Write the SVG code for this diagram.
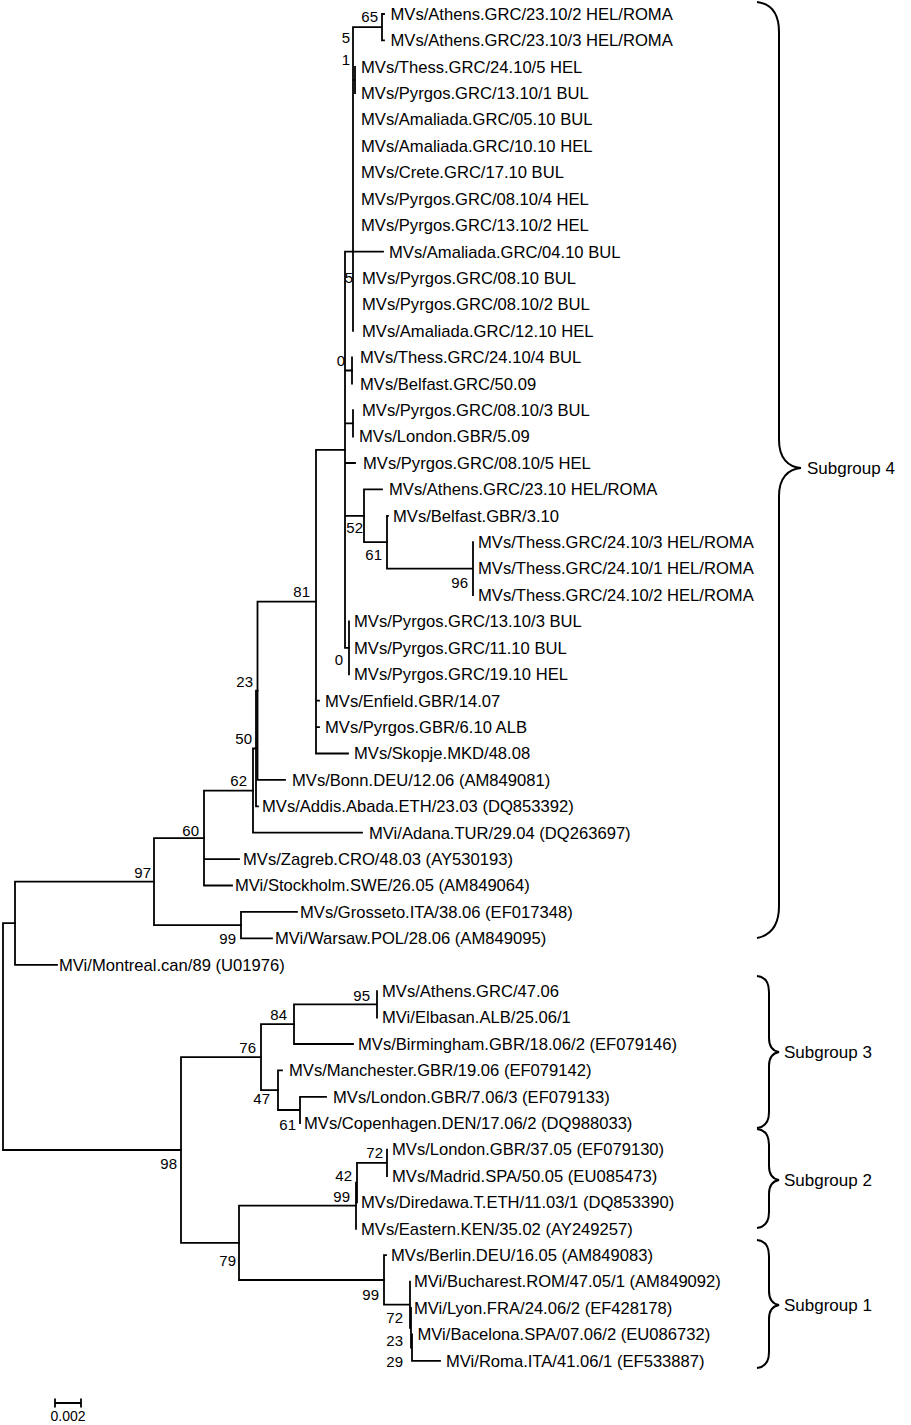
<svg xmlns="http://www.w3.org/2000/svg" width="911" height="1425" viewBox="0 0 911 1425">
<style>
text{font-family:"Liberation Sans",Arial,Helvetica,sans-serif;fill:#000}
.leaf{font-size:16.6px}
.bs{font-size:15px;text-anchor:end}
.sg{font-size:17px}
.sc{font-size:14px;text-anchor:middle}
.tree path{stroke:#000;stroke-width:1.8;fill:none;stroke-linecap:square}
.brace path{stroke:#000;stroke-width:2;fill:none}
</style>
<rect width="911" height="1425" fill="#fff"/>
<g id="connectors" class="tree">
<path d="M3,923.2V1150M3,923.2H15M3,1150H181"/>
<path d="M15,881.6V964.8M15,881.6H154M15,964.8H57"/>
<path d="M154,838.1V925.1M154,838.1H204M154,925.1H241"/>
<path d="M241,911.9V938.4M241,911.9H297M241,938.4H272"/>
<path d="M204,790.6V885.5M204,790.6H253M204,859.1H239M204,885.5H232"/>
<path d="M253,748.5V832.7M253,748.5H256M253,832.7H362"/>
<path d="M256,690.7V806.3M256,690.7H257.5M256,806.3H258"/>
<path d="M257.5,601.6V779.9M257.5,601.6H316M257.5,779.9H285"/>
<path d="M316,449.8V753.5M316,449.8H345M316,700.7H319M316,727.1H319M316,753.5H348"/>
<path d="M345,251.7V647.8M345,251.7H383M345,370.5H352M345,423.4H353M345,463H355M345,515.8H364M345,647.8H349"/>
<path d="M353,27.2V330.9M353,27.2H382M382,14V40.4M382,14H384M382,40.4H384M353,80H355M355,66.8V93.2"/>
<path d="M352,357.3V383.7M353,410.2V436.6"/>
<path d="M364,489.4V542.2M364,489.4H382M364,542.2H387"/>
<path d="M387,515.8V568.6M387,515.8H388M387,568.6H473M473,542.2V595"/>
<path d="M349,621.4V674.3"/>
<path d="M181,1057.2V1242.8M181,1057.2H261M181,1242.8H239"/>
<path d="M261,1024.2V1090.2M261,1024.2H294M261,1090.2H278"/>
<path d="M294,1004.4V1044M294,1004.4H377M294,1044H353M377,991.2V1017.6"/>
<path d="M278,1070.4V1110M278,1070.4H282M278,1110H300M300,1096.8V1123.2M300,1096.8H326"/>
<path d="M239,1205.7V1280M239,1205.7H356M239,1280H384"/>
<path d="M356,1182.6V1228.8M356,1182.6H357M357,1162.8V1202.4M357,1162.8H387M387,1149.6V1176"/>
<path d="M384,1255.2V1304.7M384,1255.2H386M384,1304.7H410M410,1281.6V1327.8M410,1327.8H411M411,1308V1347.6M411,1347.6H412M412,1334.4V1360.8M412,1360.8H440"/>
<path d="M55,1403H81M55,1399.5V1406.5M81,1399.5V1406.5"/>
</g>
<g id="leaves" class="leaf">
<g id="n1"><text x="390.5" y="19.8">MVs/Athens.GRC/23.10/2 HEL/ROMA</text></g>
<g id="n2"><text x="390.5" y="46.2">MVs/Athens.GRC/23.10/3 HEL/ROMA</text></g>
<g id="n3"><text x="361" y="72.6">MVs/Thess.GRC/24.10/5 HEL</text></g>
<g id="n4"><text x="361" y="99">MVs/Pyrgos.GRC/13.10/1 BUL</text></g>
<g id="n5"><text x="361" y="125.4">MVs/Amaliada.GRC/05.10 BUL</text></g>
<g id="n6"><text x="361" y="151.9">MVs/Amaliada.GRC/10.10 HEL</text></g>
<g id="n7"><text x="361" y="178.3">MVs/Crete.GRC/17.10 BUL</text></g>
<g id="n8"><text x="361" y="204.7">MVs/Pyrgos.GRC/08.10/4 HEL</text></g>
<g id="n9"><text x="361" y="231.1">MVs/Pyrgos.GRC/13.10/2 HEL</text></g>
<g id="n10"><text x="389" y="257.5">MVs/Amaliada.GRC/04.10 BUL</text></g>
<g id="n11"><text x="362" y="283.9">MVs/Pyrgos.GRC/08.10 BUL</text></g>
<g id="n12"><text x="362" y="310.3">MVs/Pyrgos.GRC/08.10/2 BUL</text></g>
<g id="n13"><text x="362" y="336.7">MVs/Amaliada.GRC/12.10 HEL</text></g>
<g id="n14"><text x="360" y="363.1">MVs/Thess.GRC/24.10/4 BUL</text></g>
<g id="n15"><text x="360" y="389.5">MVs/Belfast.GRC/50.09</text></g>
<g id="n16"><text x="362" y="416">MVs/Pyrgos.GRC/08.10/3 BUL</text></g>
<g id="n17"><text x="359" y="442.4">MVs/London.GBR/5.09</text></g>
<g id="n18"><text x="363" y="468.8">MVs/Pyrgos.GRC/08.10/5 HEL</text></g>
<g id="n19"><text x="389" y="495.2">MVs/Athens.GRC/23.10 HEL/ROMA</text></g>
<g id="n20"><text x="393" y="521.6">MVs/Belfast.GBR/3.10</text></g>
<g id="n21"><text x="478" y="548">MVs/Thess.GRC/24.10/3 HEL/ROMA</text></g>
<g id="n22"><text x="478" y="574.4">MVs/Thess.GRC/24.10/1 HEL/ROMA</text></g>
<g id="n23"><text x="478" y="600.8">MVs/Thess.GRC/24.10/2 HEL/ROMA</text></g>
<g id="n24"><text x="354" y="627.2">MVs/Pyrgos.GRC/13.10/3 BUL</text></g>
<g id="n25"><text x="354" y="653.6">MVs/Pyrgos.GRC/11.10 BUL</text></g>
<g id="n26"><text x="354" y="680.1">MVs/Pyrgos.GRC/19.10 HEL</text></g>
<g id="n27"><text x="325" y="706.5">MVs/Enfield.GBR/14.07</text></g>
<g id="n28"><text x="325" y="732.9">MVs/Pyrgos.GBR/6.10 ALB</text></g>
<g id="n29"><text x="354" y="759.3">MVs/Skopje.MKD/48.08</text></g>
<g id="n30"><text x="292" y="785.7">MVs/Bonn.DEU/12.06 (AM849081)</text></g>
<g id="n31"><text x="262" y="812.1">MVs/Addis.Abada.ETH/23.03 (DQ853392)</text></g>
<g id="n32"><text x="369" y="838.5">MVi/Adana.TUR/29.04 (DQ263697)</text></g>
<g id="n33"><text x="243" y="864.9">MVs/Zagreb.CRO/48.03 (AY530193)</text></g>
<g id="n34"><text x="235" y="891.3">MVi/Stockholm.SWE/26.05 (AM849064)</text></g>
<g id="n35"><text x="300" y="917.7">MVs/Grosseto.ITA/38.06 (EF017348)</text></g>
<g id="n36"><text x="275" y="944.2">MVi/Warsaw.POL/28.06 (AM849095)</text></g>
<g id="n37"><text x="59" y="970.6">MVi/Montreal.can/89 (U01976)</text></g>
<g id="n38"><text x="382" y="997">MVs/Athens.GRC/47.06</text></g>
<g id="n39"><text x="382" y="1023.4">MVi/Elbasan.ALB/25.06/1</text></g>
<g id="n40"><text x="358" y="1049.8">MVs/Birmingham.GBR/18.06/2 (EF079146)</text></g>
<g id="n41"><text x="289" y="1076.2">MVs/Manchester.GBR/19.06 (EF079142)</text></g>
<g id="n42"><text x="333" y="1102.6">MVs/London.GBR/7.06/3 (EF079133)</text></g>
<g id="n43"><text x="304" y="1129">MVs/Copenhagen.DEN/17.06/2 (DQ988033)</text></g>
<g id="n44"><text x="392" y="1155.4">MVs/London.GBR/37.05 (EF079130)</text></g>
<g id="n45"><text x="392" y="1181.8">MVs/Madrid.SPA/50.05 (EU085473)</text></g>
<g id="n46"><text x="361" y="1208.2">MVs/Diredawa.T.ETH/11.03/1 (DQ853390)</text></g>
<g id="n47"><text x="361" y="1234.6">MVs/Eastern.KEN/35.02 (AY249257)</text></g>
<g id="n48"><text x="391" y="1261">MVs/Berlin.DEU/16.05 (AM849083)</text></g>
<g id="n49"><text x="414" y="1287.4">MVi/Bucharest.ROM/47.05/1 (AM849092)</text></g>
<g id="n50"><text x="414" y="1313.8">MVi/Lyon.FRA/24.06/2 (EF428178)</text></g>
<g id="n51"><text x="417.5" y="1340.2">MVi/Bacelona.SPA/07.06/2 (EU086732)</text></g>
<g id="n52"><text x="446" y="1366.6">MVi/Roma.ITA/41.06/1 (EF533887)</text></g>
</g>
<g id="support" class="bs">
<g id="b65"><text x="378" y="22">65</text></g>
<g id="b5a"><text x="350" y="43">5</text></g>
<g id="b1"><text x="350" y="65">1</text></g>
<g id="b5b"><text x="353" y="283">5</text></g>
<g id="b0a"><text x="345" y="366">0</text></g>
<g id="b52"><text x="363" y="533">52</text></g>
<g id="b61a"><text x="382" y="560">61</text></g>
<g id="b96"><text x="468" y="588">96</text></g>
<g id="b0b"><text x="343" y="665">0</text></g>
<g id="b81"><text x="310" y="597">81</text></g>
<g id="b23a"><text x="253" y="687">23</text></g>
<g id="b50"><text x="252" y="744">50</text></g>
<g id="b62"><text x="247" y="786">62</text></g>
<g id="b60"><text x="199" y="836">60</text></g>
<g id="b97"><text x="151" y="878">97</text></g>
<g id="b99a"><text x="236" y="944">99</text></g>
<g id="b95"><text x="370" y="1001">95</text></g>
<g id="b84"><text x="287" y="1020">84</text></g>
<g id="b76"><text x="256" y="1053">76</text></g>
<g id="b47"><text x="270" y="1104">47</text></g>
<g id="b61b"><text x="296" y="1130">61</text></g>
<g id="b98"><text x="177" y="1169">98</text></g>
<g id="b72a"><text x="383" y="1158">72</text></g>
<g id="b42"><text x="352" y="1181">42</text></g>
<g id="b99b"><text x="350" y="1202">99</text></g>
<g id="b79"><text x="236" y="1266">79</text></g>
<g id="b99c"><text x="379" y="1300">99</text></g>
<g id="b72b"><text x="403" y="1323">72</text></g>
<g id="b23b"><text x="403" y="1346">23</text></g>
<g id="b29"><text x="403" y="1367">29</text></g>
</g>
<g id="braces" class="brace">
<path d="M757,2C772,4 779,14 779,32V440C779,458 788,467 801,468C788,469 779,478 779,496V906C779,924 772,935 757,938"/>
<path d="M757,976C766,977 769,983 769,992V1038C769,1047 773,1051 779,1052C773,1053 769,1057 769,1066V1112C769,1121 766,1127 757,1128"/>
<path d="M757,1129C766,1130 769,1136 769,1145V1166C769,1175 773,1179 779,1180C773,1181 769,1185 769,1194V1212C769,1221 766,1227 757,1228"/>
<path d="M757,1240C766,1241 769,1247 769,1256V1291C769,1300 773,1304 779,1305C773,1306 769,1310 769,1319V1352C769,1361 766,1367 757,1368"/>
</g>
<g id="subgroups" class="sg">
<g id="sg4"><text x="807" y="474">Subgroup 4</text></g>
<g id="sg3"><text x="784" y="1058">Subgroup 3</text></g>
<g id="sg2"><text x="784" y="1186">Subgroup 2</text></g>
<g id="sg1"><text x="784" y="1311">Subgroup 1</text></g>
</g>
<g id="scale"><text class="sc" x="68" y="1421">0.002</text></g>
</svg>
